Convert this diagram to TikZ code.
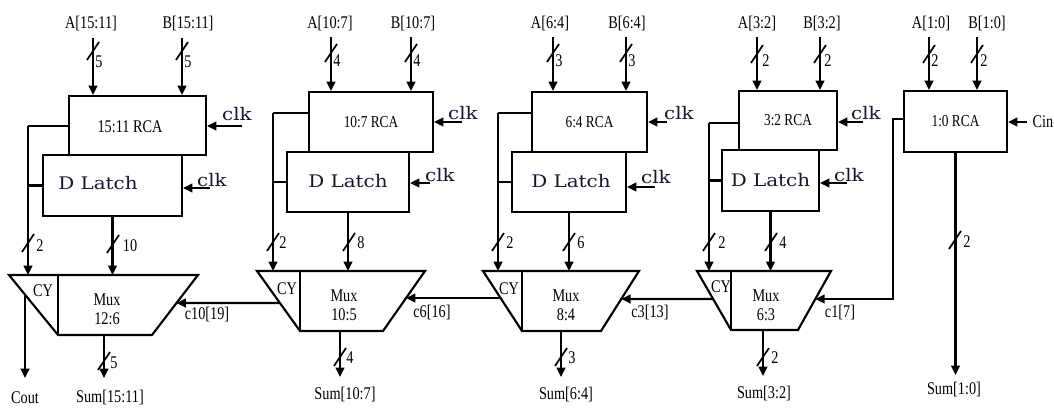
\documentclass[tikz,border=0pt]{standalone}
\usepackage{fontspec}
\setmainfont{Liberation Serif}
\newfontfamily\djv{DejaVu Serif}
\usetikzlibrary{arrows.meta,calc}
\definecolor{navy}{RGB}{22,22,48}
\newcommand\Tx[1]{\scalebox{1}[1.25]{#1}}
\newcommand\Dx[1]{\scalebox{1.15}[1]{#1}}
\begin{document}
\begin{tikzpicture}[x=0.75pt,y=-0.75pt,
  wire/.style={line width=1.6pt},
  thin/.style={line width=1.1pt},
  arr/.style={line width=1.6pt,-{Triangle[length=7pt,width=6.5pt]}},
  box/.style={draw,line width=1.6pt,inner sep=0pt},
  t/.style={font=\fontsize{10.7}{12}\selectfont,inner sep=0pt},
  dl/.style={font=\djv\fontsize{13}{15}\selectfont,text=navy,inner sep=0pt},
  busslash/.pic={\draw[line width=1.3pt] (-6,9) -- (6,-9);}
]
\useasboundingbox (0,0) rectangle (1054,410);

% ---------------- mux corner coordinates
\coordinate (m1tl) at (9,275);   \coordinate (m1tr) at (198,275);
\coordinate (m1br) at (152,335); \coordinate (m1bl) at (58,335);
\coordinate (m2tl) at (257,271); \coordinate (m2tr) at (425,271);
\coordinate (m2br) at (383,331); \coordinate (m2bl) at (300,331);
\coordinate (m3tl) at (483,271); \coordinate (m3tr) at (639,271);
\coordinate (m3br) at (601,331); \coordinate (m3bl) at (522,331);
\coordinate (m4tl) at (697,271); \coordinate (m4tr) at (831,271);
\coordinate (m4br) at (798,330); \coordinate (m4bl) at (731,330);

% ================= stage 1
\node[t] (A1) at (91,24) {\Tx{A[15:11]}};
\node[t] (B1) at (188,24) {\Tx{B[15:11]}};
\node[box,minimum width=102.75pt,minimum height=44.25pt] (R1) at (137.5,125.5) {};
\node[t] (R1t) at (130,127) {\Tx{15:11 RCA}};
\node[box,minimum width=104.25pt,minimum height=45.75pt] (L1) at (112.5,185.5) {};
\node[dl] (L1t) at (98,183) {\Dx{D Latch}};
\coordinate (a1) at (93,38); \coordinate (b1) at (182,38);
\draw[arr] (a1) -- (a1 |- R1.north);
\draw[arr] (b1) -- (b1 |- R1.north);
\pic at (93,51) {busslash}; \pic at (182,51) {busslash};
\node[t] (na1) at (99,62) {\Tx{5}}; \node[t] (nb1) at (188,62) {\Tx{5}};
\node[dl] (k1) at (237,114) {\Dx{clk}};
\coordinate (k1s) at (242,126);
\draw[arr] (k1s) -- (R1.east |- k1s);
\node[dl] (k1b) at (212,180) {\Dx{clk}};
\coordinate (k1bs) at (210,188);
\draw[arr] (k1bs) -- (L1.east |- k1bs);
\coordinate (f1) at (28,126);
\draw[wire] (R1.west |- f1) -- (f1);
\draw[arr] (f1) -- (f1 |- m1tl);
\draw[wire] (L1.west) -- (L1.west -| f1);
\pic at (28,243) {busslash}; \node[t] (n1c) at (40,246) {\Tx{2}};
\draw[arr] (L1.south) -- (L1.south |- m1tl);
\pic at (113,244) {busslash}; \node[t] (n1l) at (130,246) {\Tx{10}};
\draw[wire] (m1tl) -- (m1tr) -- (m1br) -- (m1bl) -- cycle;
\draw[thin] (m1bl) -- (m1bl |- m1tl);
\node[t] (cy1) at (43,291) {\Tx{CY}};
\node[t,align=center] (mx1) at (107,309) {\Tx{Mux}\\[2pt]\Tx{12:6}};
\coordinate (co0) at ($(m1tl)!0.327!(m1bl)$);
\coordinate (co) at (25,378);
\draw[arr] (co0) -- (co0 |- co);
\node[t] (cout) at (25,398) {\Tx{Cout}};
\coordinate (s1) at (104,335); \coordinate (s1e) at (104,378);
\draw[arr] (s1) -- (s1e);
\pic at (104,361) {busslash}; \node[t] (n1s) at (114,363) {\Tx{5}};
\node[t] (S1) at (110,398) {\Tx{Sum[15:11]}};
\draw[arr] ($(m2tl)!0.533!(m2bl)$) -- ($(m1tr)!0.467!(m1br)$);
\node[t] (c10) at (207,315) {\Tx{c10[19]}};

% ================= stage 2
\node[t] (A2) at (330,24) {\Tx{A[10:7]}};
\node[t] (B2) at (413,24) {\Tx{B[10:7]}};
\node[box,minimum width=93pt,minimum height=45pt] (R2) at (371,122) {\Tx{10:7 RCA}};
\node[box,minimum width=91.5pt,minimum height=45pt] (L2) at (348,182) {};
\node[dl] (L2t) at (348,181) {\Dx{D Latch}};
\coordinate (a2) at (331,37); \coordinate (b2) at (411,37);
\draw[arr] (a2) -- (a2 |- R2.north);
\draw[arr] (b2) -- (b2 |- R2.north);
\pic at (331,53) {busslash}; \pic at (411,53) {busslash};
\node[t] (na2) at (337,61) {\Tx{4}}; \node[t] (nb2) at (417,61) {\Tx{4}};
\node[dl] (k2) at (463,113) {\Dx{clk}};
\coordinate (k2s) at (462,122);
\draw[arr] (k2s) -- (R2.east |- k2s);
\node[dl] (k2b) at (440,175) {\Dx{clk}};
\coordinate (k2bs) at (430,183);
\draw[arr] (k2bs) -- (L2.east |- k2bs);
\coordinate (f2) at (273,113);
\draw[wire] (R2.west |- f2) -- (f2);
\draw[arr] (f2) -- (f2 |- m2tl);
\draw[wire] (L2.west) -- (L2.west -| f2);
\pic at (273,242) {busslash}; \node[t] (n2c) at (283,243) {\Tx{2}};
\draw[arr] (L2.south) -- (L2.south |- m2tl);
\pic at (349,242) {busslash}; \node[t] (n2l) at (361,243) {\Tx{8}};
\draw[wire] (m2tl) -- (m2tr) -- (m2br) -- (m2bl) -- cycle;
\draw[thin] (m2bl) -- (m2bl |- m2tl);
\node[t] (cy2) at (287,289) {\Tx{CY}};
\node[t,align=center] (mx2) at (344,305) {\Tx{Mux}\\[2pt]\Tx{10:5}};
\coordinate (s2) at (340,331); \coordinate (s2e) at (340,377);
\draw[arr] (s2) -- (s2e);
\pic at (340,357) {busslash}; \node[t] (n2s) at (350,358) {\Tx{4}};
\node[t] (S2) at (345,395) {\Tx{Sum[10:7]}};
\draw[arr] ($(m3tl)!0.45!(m3bl)$) -- ($(m2tr)!0.45!(m2br)$);
\node[t] (c6) at (432,313) {\Tx{c6[16]}};

% ================= stage 3
\node[t] (A3) at (550,24) {\Tx{A[6:4]}};
\node[t] (B3) at (627,24) {\Tx{B[6:4]}};
\node[box,minimum width=86.25pt,minimum height=45pt] (R3) at (589.5,122) {\Tx{6:4 RCA}};
\node[box,minimum width=85.5pt,minimum height=45pt] (L3) at (569,182) {};
\node[dl] (L3t) at (571,181) {\Dx{D Latch}};
\coordinate (a3) at (553,37); \coordinate (b3) at (626,37);
\draw[arr] (a3) -- (a3 |- R3.north);
\draw[arr] (b3) -- (b3 |- R3.north);
\pic at (553,53) {busslash}; \pic at (626,53) {busslash};
\node[t] (na3) at (559,61) {\Tx{3}}; \node[t] (nb3) at (632,61) {\Tx{3}};
\node[dl] (k3) at (679,113) {\Dx{clk}};
\coordinate (k3s) at (667,122);
\draw[arr] (k3s) -- (R3.east |- k3s);
\node[dl] (k3b) at (656,177) {\Dx{clk}};
\coordinate (k3bs) at (655,187);
\draw[arr] (k3bs) -- (L3.east |- k3bs);
\coordinate (f3) at (498,113);
\draw[wire] (R3.west |- f3) -- (f3);
\draw[arr] (f3) -- (f3 |- m3tl);
\draw[wire] (L3.west) -- (L3.west -| f3);
\pic at (498,242) {busslash}; \node[t] (n3c) at (510,243) {\Tx{2}};
\draw[arr] (L3.south) -- (L3.south |- m3tl);
\pic at (569,242) {busslash}; \node[t] (n3l) at (581,243) {\Tx{6}};
\draw[wire] (m3tl) -- (m3tr) -- (m3br) -- (m3bl) -- cycle;
\draw[thin] (m3bl) -- (m3bl |- m3tl);
\node[t] (cy3) at (509,289) {\Tx{CY}};
\node[t,align=center] (mx3) at (566,305) {\Tx{Mux}\\[2pt]\Tx{8:4}};
\coordinate (s3) at (561,331); \coordinate (s3e) at (561,377);
\draw[arr] (s3) -- (s3e);
\pic at (561,357) {busslash}; \node[t] (n3s) at (572,358) {\Tx{3}};
\node[t] (S3) at (566,395) {\Tx{Sum[6:4]}};
\draw[arr] ($(m4tl)!0.475!(m4bl)$) -- ($(m3tr)!0.467!(m3br)$);
\node[t] (c3) at (650,313) {\Tx{c3[13]}};

% ================= stage 4
\node[t] (A4) at (757,24) {\Tx{A[3:2]}};
\node[t] (B4) at (822,24) {\Tx{B[3:2]}};
\node[box,minimum width=73.5pt,minimum height=44.25pt] (R4) at (788,120.5) {\Tx{3:2 RCA}};
\node[box,minimum width=72.75pt,minimum height=45.75pt] (L4) at (770.5,180.5) {};
\node[dl] (L4t) at (770.5,180) {\Dx{D Latch}};
\coordinate (a4) at (757,37); \coordinate (b4) at (820,37);
\draw[arr] (a4) -- (a4 |- R4.north);
\draw[arr] (b4) -- (b4 |- R4.north);
\pic at (757,54) {busslash}; \pic at (820,54) {busslash};
\node[t] (na4) at (766,61) {\Tx{2}}; \node[t] (nb4) at (828,61) {\Tx{2}};
\node[dl] (k4) at (866,113) {\Dx{clk}};
\coordinate (k4s) at (863,122);
\draw[arr] (k4s) -- (R4.east |- k4s);
\node[dl] (k4b) at (849,175) {\Dx{clk}};
\coordinate (k4bs) at (847,183);
\draw[arr] (k4bs) -- (L4.east |- k4bs);
\coordinate (f4) at (709,123);
\draw[wire] (R4.west |- f4) -- (f4);
\draw[arr] (f4) -- (f4 |- m4tl);
\draw[wire] (L4.west) -- (L4.west -| f4);
\pic at (709,242) {busslash}; \node[t] (n4c) at (722,243) {\Tx{2}};
\draw[arr] (L4.south) -- (L4.south |- m4tl);
\pic at (771,242) {busslash}; \node[t] (n4l) at (783,243) {\Tx{4}};
\draw[wire] (m4tl) -- (m4tr) -- (m4br) -- (m4bl) -- cycle;
\draw[thin] (m4bl) -- (m4bl |- m4tl);
\node[t] (cy4) at (721,287) {\Tx{CY}};
\node[t,align=center] (mx4) at (766,305) {\Tx{Mux}\\[2pt]\Tx{6:3}};
\coordinate (s4) at (763,330); \coordinate (s4e) at (763,376);
\draw[arr] (s4) -- (s4e);
\pic at (763,357) {busslash}; \node[t] (n4s) at (775,358) {\Tx{2}};
\node[t] (S4) at (764,394) {\Tx{Sum[3:2]}};
\node[t] (c1) at (840,313) {\Tx{c1[7]}};

% ================= stage 5
\node[t] (A5) at (931,24) {\Tx{A[1:0]}};
\node[t] (B5) at (987,24) {\Tx{B[1:0]}};
\node[box,minimum width=77.25pt,minimum height=45.75pt] (R5) at (955.5,121.5) {\Tx{1:0 RCA}};
\coordinate (a5) at (929,37); \coordinate (b5) at (977,37);
\draw[arr] (a5) -- (a5 |- R5.north);
\draw[arr] (b5) -- (b5 |- R5.north);
\pic at (929,54) {busslash}; \pic at (977,54) {busslash};
\node[t] (na5) at (935,61) {\Tx{2}}; \node[t] (nb5) at (984,61) {\Tx{2}};
\node[t] (cin) at (1043,122) {\Tx{Cin}};
\coordinate (cins) at (1027,122);
\draw[arr] (cins) -- (R5.east |- cins);
\coordinate (s5e) at (955,375);
\draw[arr] (R5.south) -- (R5.south |- s5e);
\pic at (955,240) {busslash}; \node[t] (n5s) at (967,242) {\Tx{2}};
\node[t] (S5) at (954,390) {\Tx{Sum[1:0]}};
\coordinate (f5) at (893,119);
\coordinate (c1e) at ($(m4tr)!0.475!(m4br)$);
\draw[arr] (R5.west |- f5) -- (f5) -- (f5 |- c1e) -- (c1e);
\end{tikzpicture}
\end{document}
